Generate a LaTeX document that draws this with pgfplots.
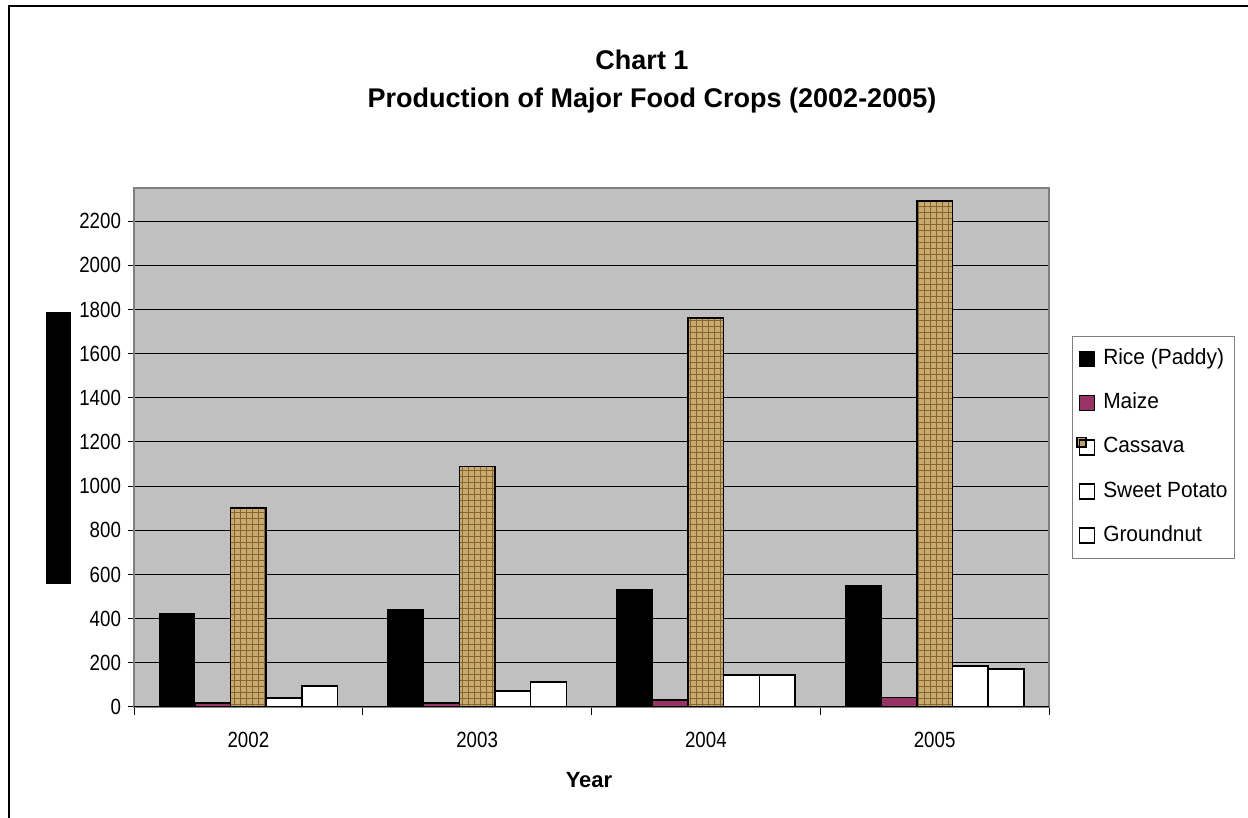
\documentclass[border=0pt]{standalone}
\usepackage{fontspec}
\setmainfont{Liberation Sans}
\newfontfamily\narrowfont[FakeStretch=0.85]{Liberation Sans}
\newfontfamily\legendfont[FakeStretch=0.95]{Liberation Sans}
\usepackage{pgfplots}
\usepackage{pgfplotstable}
\pgfplotsset{compat=1.18}
\usetikzlibrary{patterns}

\definecolor{plotbg}{HTML}{C0C0C0}
\definecolor{framegray}{HTML}{808080}
\definecolor{maize}{HTML}{993366}
\definecolor{cassava}{HTML}{C9AA70}
\definecolor{cassdark}{HTML}{86652F}

% production by year: rice, maize, cassava, sweet potato, groundnut
\pgfplotstableread{
x rice maize cassava sweet ground
0 425 19 901 41 95
1 443 19 1090 72 113
2 530 32 1761 145 145
3 552 42 2291 186 172
}\cropdata

\begin{document}
\begin{tikzpicture}
\useasboundingbox (0,0) rectangle (624pt,409pt);
% chart frame (runs off the right and bottom edges)
\draw[black, line width=1pt] (4.5pt,-2pt) -- (4.5pt,406pt) -- (630pt,406pt);

\node[font=\fontsize{13.5}{15}\selectfont\bfseries, anchor=base] at (321pt,374pt) {Chart 1};
\node[font=\fontsize{13.5}{15}\selectfont\bfseries, anchor=base] at (326pt,355pt)
  {Production of Major Food Crops (2002-2005)};

\begin{axis}[
  at={(67pt,55.5pt)}, anchor=south west,
  width=457.5pt, height=259.5pt, scale only axis,
  xmin=-0.5, xmax=3.5, ymin=0, ymax=2350,
  ybar=0pt, bar width=0.156,
  xtick={0,1,2,3}, xticklabels={2002,2003,2004,2005},
  minor xtick={-0.5,0.5,1.5,2.5,3.5},
  ytick={0,200,...,2200},
  ymajorgrids, grid style={black, line width=0.5pt},
  axis background/.style={fill=plotbg},
  axis line style={draw=framegray, line width=1pt},
  tick align=outside, xtick pos=bottom, ytick pos=left,
  major tick length=3pt, minor tick length=4pt,
  major x tick style={draw=none},
  minor x tick style={black, line width=0.5pt},
  ytick style={black, line width=0.5pt},
  tick label style={font=\narrowfont\fontsize{11}{13}\selectfont},
  xticklabel style={yshift=-6pt},
  /pgf/number format/assume math mode=true,
  /pgf/number format/1000 sep={},
  legend cell align=left,
  legend style={at={(axis description cs:1.0251,0.7148)}, anchor=north west,
    draw=framegray, fill=white, font=\legendfont\fontsize{11}{13}\selectfont,
    row sep=8.6pt, column sep=2.5pt, inner xsep=2pt, inner ysep=4.5pt,
    nodes={text height=8pt, text depth=2.5pt, inner sep=1.5pt}},
]
\addplot[bar shift=-0.312, fill=black, draw=black, line width=0.5pt,
  legend image code/.code={\draw[draw=black, fill=black, line width=0.5pt] (0pt,-3.75pt) rectangle (7.5pt,3.75pt);}]
  table[x=x, y=rice] {\cropdata};
\addplot[bar shift=-0.156, fill=maize, draw=black, line width=0.75pt,
  legend image code/.code={\draw[draw=black, fill=maize, line width=0.75pt] (0pt,-3.75pt) rectangle (7.5pt,3.75pt);}]
  table[x=x, y=maize] {\cropdata};
\addplot[bar shift=0, fill=cassava, draw=black, line width=0.75pt,
  legend image code/.code={\fill[fill=white] (0pt,-3.75pt) rectangle (7.5pt,3.75pt);
    \fill[fill=cassava!85!cassdark] (-1.2pt,0.2pt) rectangle (3.2pt,5pt);
    \draw[draw=black, fill=none, line width=0.75pt] (0pt,-3.75pt) rectangle (7.5pt,3.75pt);}]
  table[x=x, y=cassava] {\cropdata};
% woven texture over the cassava bars
\addplot[forget plot, bar shift=0, pattern=grid, pattern color=cassdark, draw=black, line width=0.75pt]
  table[x=x, y=cassava] {\cropdata};
\addplot[bar shift=0.156, fill=white, draw=black, line width=0.75pt,
  legend image code/.code={\draw[draw=black, fill=white, line width=0.75pt] (0pt,-3.75pt) rectangle (7.5pt,3.75pt);}]
  table[x=x, y=sweet] {\cropdata};
\addplot[bar shift=0.312, fill=white, draw=black, line width=0.75pt,
  legend image code/.code={\draw[draw=black, fill=white, line width=0.75pt] (0pt,-3.75pt) rectangle (7.5pt,3.75pt);}]
  table[x=x, y=ground] {\cropdata};
\legend{Rice (Paddy), Maize, Cassava, Sweet Potato, Groundnut}
\draw[black, line width=1pt] (rel axis cs:0,0) -- (rel axis cs:1,0);
\end{axis}

% y-axis title as it appears: a solid black block
\fill[black] (23pt,117pt) rectangle (35.5pt,253pt);
\node[font=\fontsize{11}{13}\selectfont\bfseries, anchor=base] at (294.5pt,15pt) {Year};
\end{tikzpicture}
\end{document}
